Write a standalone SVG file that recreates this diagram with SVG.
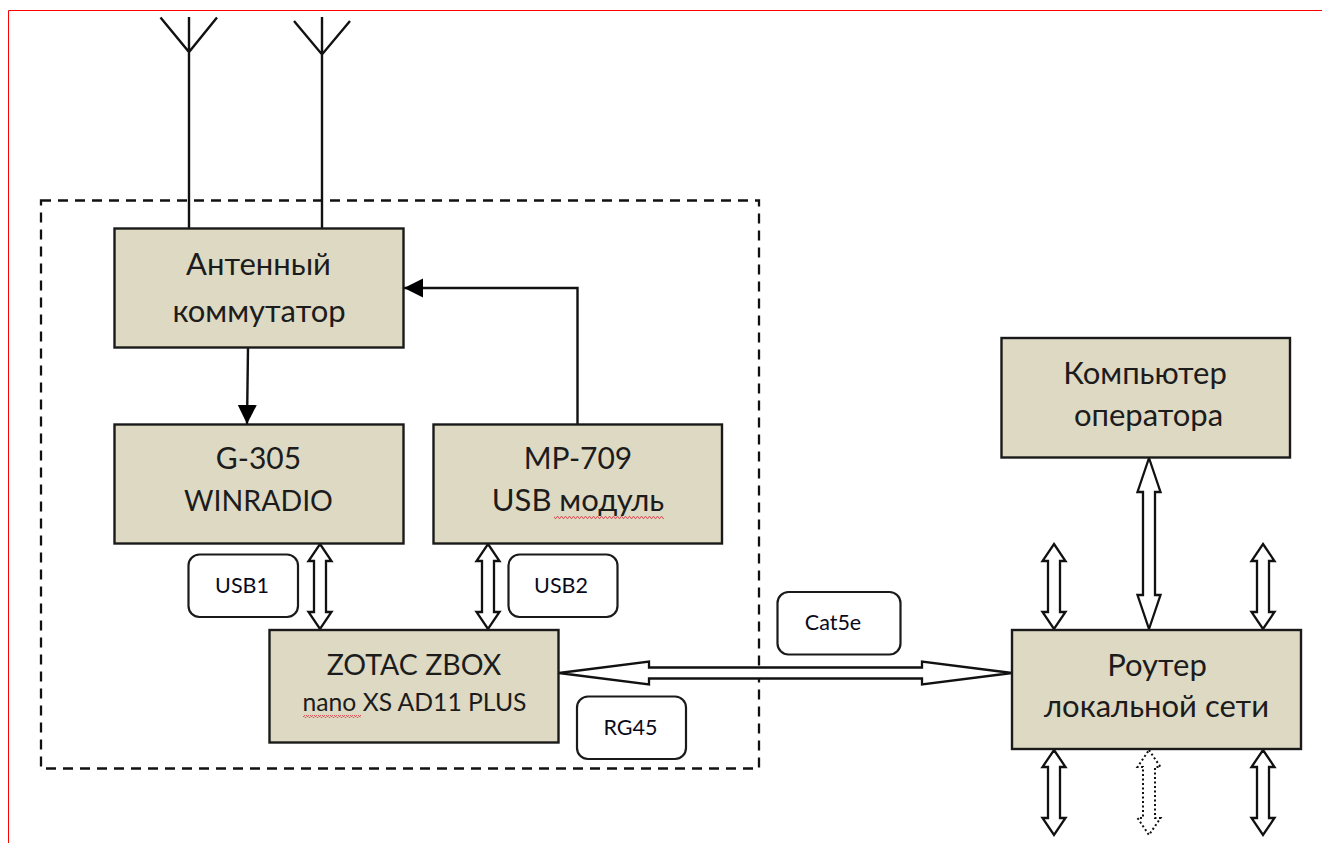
<svg xmlns="http://www.w3.org/2000/svg" width="1322" height="843" viewBox="0 0 1322 843">
<style>
.box{fill:#ddd9c3;stroke:#1a1a1a;stroke-width:2.4}
.tag{fill:#fff;stroke:#1a1a1a;stroke-width:2.2}
.t{font-family:"Lato","Noto Sans","Open Sans",sans-serif;font-size:31px;fill:#1c1c1c;text-anchor:middle}
.la{font-size:28.500px}
.s{font-size:24.700px}
.l{font-family:"Lato","Noto Sans","Open Sans",sans-serif;font-size:21.500px;fill:#0a0a1a;text-anchor:middle}
.w{fill:none;stroke:#111;stroke-width:2.4}
.b{fill:#fff;stroke:#111;stroke-width:2.3;stroke-linejoin:miter}
</style>
<defs>
<pattern id="wave" width="4" height="3" patternUnits="userSpaceOnUse"><path d="M0 2.500L1 .5L2 .5L3 2.500L4 2.500" fill="none" stroke="#e8525a" stroke-width="1"/></pattern>
<marker id="head" markerUnits="userSpaceOnUse" markerWidth="20" markerHeight="20" refX="19" refY="9.500" orient="auto"><path d="M0 0L19 9.500L0 19Z" fill="#000"/></marker>
</defs>
<rect width="1322" height="843" fill="#fff"/>
<path d="M8.500 843V10.500H1322" fill="none" stroke="#f00" stroke-width="1"/>
<rect id="enclosure" x="41" y="200.500" width="718" height="568" fill="none" stroke="#111" stroke-width="2.300" stroke-dasharray="10 7"/>
<g id="connectors">
<path class="w" d="M189 17V228M160.500 17.500L189 52L217 17.500"/>
<path class="w" d="M322 17V228M294 21L322 54.500L350 21"/>
<path class="w" d="M248 348L247 424" marker-end="url(#head)"/>
<path class="w" d="M577.500 424V288H404" marker-end="url(#head)"/>
<polygon class="b" points="320,544 331.500,561 326,561 326,612 331.500,612 320,629 308.500,612 314,612 314,561 308.500,561"/>
<polygon class="b" points="488,544 499.500,561 494,561 494,612 499.500,612 488,629 476.500,612 482,612 482,561 476.500,561"/>
<polygon class="b" points="1054,544 1065.500,561 1060,561 1060,612 1065.500,612 1054,629 1042.500,612 1048,612 1048,561 1042.500,561"/>
<polygon class="b" points="1263,544 1274.500,561 1269,561 1269,612 1274.500,612 1263,629 1251.500,612 1257,612 1257,561 1251.500,561"/>
<polygon class="b" points="1149,458 1160.500,492 1155,492 1155,595 1160.500,595 1149,629 1137.500,595 1143,595 1143,492 1137.500,492"/>
<polygon class="b" points="1054,750 1065.500,767 1060,767 1060,818 1065.500,818 1054,835 1042.500,818 1048,818 1048,767 1042.500,767"/>
<polygon class="b" points="1263,750 1274.500,767 1269,767 1269,818 1274.500,818 1263,835 1251.500,818 1257,818 1257,767 1251.500,767"/>
<polygon class="b" stroke-dasharray="2 2.500" style="stroke-width:2" points="1149,750 1160.500,767 1155,767 1155,818 1160.500,818 1149,835 1137.500,818 1143,818 1143,767 1137.500,767"/>
<polygon class="b" points="559,673 649,661.500 649,667.500 922,667.500 922,661.500 1012,673 922,684.500 922,678.500 649,678.500 649,684.500"/>
</g>
<g id="antenna-switch"><rect class="box" x="114.500" y="228.500" width="289" height="119"/><text class="t" x="258.500" y="275">Антенный</text><text class="t" x="259" y="322">коммутатор</text></g>
<g id="g305"><rect class="box" x="114.500" y="424.500" width="289" height="119"/><text class="t" x="258.500" y="469" style="font-size:30px">G-305</text><text class="t la" x="258.500" y="511">WINRADIO</text></g>
<g id="mp709"><rect class="box" x="433.500" y="424.500" width="288.500" height="119"/><text class="t" x="578" y="469" style="font-size:30px">MP-709</text><text class="t" x="578" y="511">USB модуль</text><rect x="554" y="516" width="110" height="3" fill="url(#wave)"/></g>
<g id="zotac"><rect class="box" x="269.500" y="630" width="289" height="112.500"/><text class="t la" x="414" y="675">ZOTAC ZBOX</text><text class="t s" x="414.500" y="711">nano XS AD11 PLUS</text><rect x="303" y="715" width="58" height="3" fill="url(#wave)"/></g>
<g id="router"><rect class="box" x="1012" y="630" width="289" height="119"/><text class="t" x="1157" y="676">Роутер</text><text class="t" x="1156.500" y="717">локальной сети</text></g>
<g id="operator"><rect class="box" x="1001.500" y="338" width="288.500" height="119.500"/><text class="t" x="1145" y="384">Компьютер</text><text class="t" x="1148.500" y="426">оператора</text></g>
<g id="usb1"><rect class="tag" x="188.500" y="554.500" width="109.500" height="62.500" rx="11"/><text class="l" x="242" y="593">USB1</text></g>
<g id="usb2"><rect class="tag" x="508.500" y="554.500" width="109" height="62.500" rx="11"/><text class="l" x="561" y="593">USB2</text></g>
<g id="rg45"><rect class="tag" x="577" y="696.500" width="109" height="62.500" rx="11"/><text class="l" x="630.500" y="735">RG45</text></g>
<g id="cat5e"><rect class="tag" x="777.500" y="592" width="123" height="62.500" rx="11"/><text class="l" x="833" y="630">Cat5e</text></g>
</svg>
